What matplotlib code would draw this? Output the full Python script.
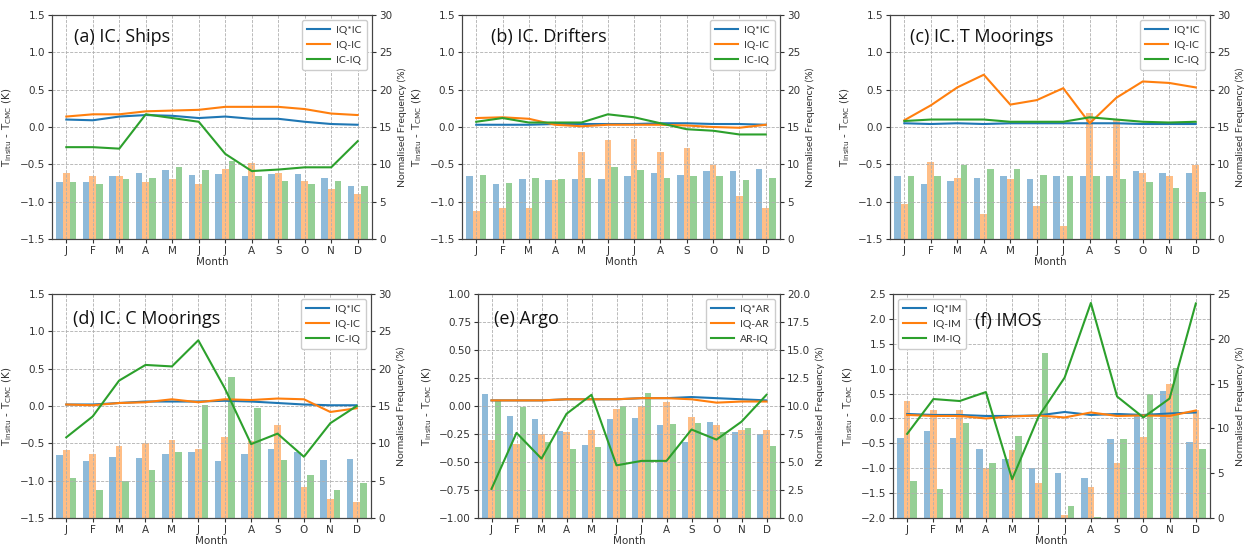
import numpy as np
import matplotlib
matplotlib.use("Agg")
import matplotlib.pyplot as plt

months = ['J', 'F', 'M', 'A', 'M', 'J', 'J', 'A', 'S', 'O', 'N', 'D']

# ---- (a) IC. Ships ----
a_labels = ['IQ*IC', 'IQ-IC', 'IC-IQ']
a_line_1 = [0.10, 0.09, 0.14, 0.16, 0.15, 0.12, 0.14, 0.11, 0.11, 0.07, 0.04, 0.03]
a_line_2 = [0.14, 0.17, 0.17, 0.21, 0.22, 0.23, 0.27, 0.27, 0.27, 0.24, 0.18, 0.16]
a_line_3 = [-0.27, -0.27, -0.29, 0.17, 0.12, 0.07, -0.36, -0.59, -0.57, -0.54, -0.54, -0.19]
a_bar_1 = [7.6, 7.6, 8.5, 8.9, 9.2, 8.6, 8.7, 8.5, 8.7, 8.7, 8.2, 7.1]
a_bar_2 = [8.9, 8.5, 8.5, 7.6, 8.0, 7.4, 9.4, 10.2, 8.9, 7.8, 6.7, 6.0]
a_bar_3 = [7.6, 7.4, 8.0, 8.2, 9.6, 9.3, 10.4, 8.5, 7.8, 7.4, 7.8, 7.1]

# ---- (b) IC. Drifters ----
b_labels = ['IQ*IC', 'IQ-IC', 'IC-IQ']
b_line_1 = [0.03, 0.03, 0.03, 0.04, 0.04, 0.04, 0.04, 0.05, 0.05, 0.04, 0.04, 0.03]
b_line_2 = [0.12, 0.13, 0.11, 0.03, 0.01, 0.03, 0.03, 0.03, 0.02, 0.00, -0.01, 0.03]
b_line_3 = [0.07, 0.12, 0.06, 0.06, 0.06, 0.17, 0.13, 0.05, -0.03, -0.05, -0.10, -0.10]
b_bar_1 = [8.4, 7.4, 8.1, 7.9, 8.1, 8.0, 8.4, 8.8, 8.6, 9.1, 9.1, 9.4]
b_bar_2 = [3.7, 4.1, 4.1, 7.9, 11.7, 13.2, 13.4, 11.6, 12.2, 9.9, 5.8, 4.1]
b_bar_3 = [8.6, 7.5, 8.2, 8.1, 8.2, 9.7, 9.2, 8.2, 8.5, 8.5, 7.9, 8.2]

# ---- (c) IC. T Moorings ----
c_labels = ['IQ*IC', 'IQ-IC', 'IC-IQ']
c_line_1 = [0.05, 0.04, 0.05, 0.04, 0.05, 0.05, 0.05, 0.05, 0.05, 0.04, 0.04, 0.04]
c_line_2 = [0.09, 0.29, 0.53, 0.70, 0.30, 0.36, 0.52, 0.05, 0.39, 0.61, 0.59, 0.53]
c_line_3 = [0.08, 0.10, 0.10, 0.10, 0.07, 0.07, 0.07, 0.13, 0.10, 0.07, 0.06, 0.07]
c_bar_1 = [8.5, 7.4, 7.8, 8.2, 8.4, 8.0, 8.4, 8.4, 8.4, 9.1, 8.8, 8.9]
c_bar_2 = [4.7, 10.3, 8.2, 3.3, 8.1, 4.4, 1.7, 16.9, 15.9, 8.9, 8.5, 9.9]
c_bar_3 = [8.5, 8.5, 9.9, 9.4, 9.4, 8.6, 8.5, 8.5, 8.0, 7.6, 6.8, 6.3]

# ---- (d) IC. C Moorings ----
d_labels = ['IQ*IC', 'IQ-IC', 'IC-IQ']
d_line_1 = [0.02, 0.02, 0.04, 0.06, 0.06, 0.06, 0.07, 0.06, 0.04, 0.02, 0.01, 0.01]
d_line_2 = [0.02, 0.01, 0.04, 0.05, 0.09, 0.05, 0.09, 0.08, 0.10, 0.09, -0.08, -0.03]
d_line_3 = [-0.42, -0.14, 0.34, 0.55, 0.53, 0.88, 0.24, -0.51, -0.37, -0.68, -0.23, 0.00]
d_bar_1 = [8.4, 7.7, 8.2, 8.0, 8.6, 8.8, 7.7, 8.6, 9.2, 8.8, 7.8, 7.9]
d_bar_2 = [9.1, 8.6, 9.6, 10.0, 10.4, 9.3, 10.9, 10.3, 12.4, 4.2, 2.6, 2.2]
d_bar_3 = [5.4, 3.7, 5.0, 6.4, 8.8, 15.2, 18.9, 14.7, 7.8, 5.8, 3.7, 4.7]

# ---- (e) Argo ----
e_labels = ['IQ*AR', 'IQ-AR', 'AR-IQ']
e_line_1 = [0.05, 0.05, 0.05, 0.06, 0.06, 0.06, 0.07, 0.07, 0.08, 0.07, 0.06, 0.05]
e_line_2 = [0.05, 0.05, 0.05, 0.06, 0.06, 0.06, 0.07, 0.07, 0.06, 0.03, 0.04, 0.04]
e_line_3 = [-0.74, -0.24, -0.47, -0.07, 0.10, -0.53, -0.49, -0.49, -0.21, -0.30, -0.14, 0.10]
e_bar_1 = [11.1, 9.1, 8.8, 7.8, 6.5, 8.8, 8.9, 8.3, 6.8, 8.6, 7.7, 7.5]
e_bar_2 = [7.0, 6.6, 7.5, 7.7, 7.9, 9.7, 10.0, 10.4, 9.0, 8.3, 7.9, 7.9]
e_bar_3 = [10.5, 9.9, 6.8, 6.2, 6.3, 10.0, 11.2, 8.4, 8.5, 7.7, 8.0, 6.4]

# ---- (f) IMOS ----
f_labels = ['IQ*IM', 'IQ-IM', 'IM-IQ']
f_line_1 = [0.09, 0.07, 0.07, 0.05, 0.05, 0.06, 0.13, 0.07, 0.09, 0.07, 0.10, 0.12]
f_line_2 = [0.07, 0.05, 0.05, 0.00, 0.04, 0.06, 0.02, 0.12, 0.05, 0.06, 0.05, 0.16]
f_line_3 = [-0.31, 0.39, 0.35, 0.53, -1.22, 0.03, 0.82, 2.32, 0.44, 0.02, 0.40, 2.31]
f_bar_1 = [8.9, 9.7, 8.9, 7.7, 6.6, 5.6, 5.0, 4.5, 8.8, 11.4, 14.2, 8.5]
f_bar_2 = [13.1, 12.0, 12.0, 5.6, 7.6, 3.9, 0.3, 3.5, 6.1, 9.0, 14.9, 12.0]
f_bar_3 = [4.1, 3.2, 10.6, 6.1, 9.1, 18.4, 1.3, 0.1, 8.8, 13.8, 16.7, 7.7]

panels = [
    dict(title='(a) IC. Ships', labels=a_labels, lines=[a_line_1, a_line_2, a_line_3],
         bars=[a_bar_1, a_bar_2, a_bar_3], px=(52, 372, 15, 239),
         yl=(-1.5, 1.5, 0.5), yr=(0, 30, 5), tpos=(0.07, 0.90), loc='upper right'),
    dict(title='(b) IC. Drifters', labels=b_labels, lines=[b_line_1, b_line_2, b_line_3],
         bars=[b_bar_1, b_bar_2, b_bar_3], px=(462, 780, 15, 239),
         yl=(-1.5, 1.5, 0.5), yr=(0, 30, 5), tpos=(0.09, 0.90), loc='upper right'),
    dict(title='(c) IC. T Moorings', labels=c_labels, lines=[c_line_1, c_line_2, c_line_3],
         bars=[c_bar_1, c_bar_2, c_bar_3], px=(890, 1210, 15, 239),
         yl=(-1.5, 1.5, 0.5), yr=(0, 30, 5), tpos=(0.063, 0.90), loc='upper right'),
    dict(title='(d) IC. C Moorings', labels=d_labels, lines=[d_line_1, d_line_2, d_line_3],
         bars=[d_bar_1, d_bar_2, d_bar_3], px=(52, 371, 294, 518),
         yl=(-1.5, 1.5, 0.5), yr=(0, 30, 5), tpos=(0.066, 0.89), loc='upper right'),
    dict(title='(e) Argo', labels=e_labels, lines=[e_line_1, e_line_2, e_line_3],
         bars=[e_bar_1, e_bar_2, e_bar_3], px=(478, 780, 294, 518),
         yl=(-1.0, 1.0, 0.25), yr=(0, 20, 2.5), tpos=(0.053, 0.89), loc='upper right'),
    dict(title='(f) IMOS', labels=f_labels, lines=[f_line_1, f_line_2, f_line_3],
         bars=[f_bar_1, f_bar_2, f_bar_3], px=(893, 1210, 294, 518),
         yl=(-2.0, 2.5, 0.5), yr=(0, 25, 5), tpos=(0.26, 0.88), loc='upper left'),
]

W, H = 1250, 546
colors = ['#1f77b4', '#ff7f0e', '#2ca02c']
fig = plt.figure(figsize=(W / 100, H / 100), dpi=100)
plt.rcParams['font.size'] = 7.5

x = np.arange(len(months))
bw = 0.25
text_col = '#333333'

for p in panels:
    l, r, t, b = p['px']
    ax = fig.add_axes([l / W, 1 - b / H, (r - l) / W, (b - t) / H])
    ax2 = ax.twinx()
    for i, vals in enumerate(p['bars']):
        ax2.bar(x + (i - 1) * bw, vals, width=bw, color=colors[i], alpha=0.5, linewidth=0)
    for i, vals in enumerate(p['lines']):
        ax.plot(x, vals, color=colors[i], lw=1.5, label=p['labels'][i])
    ax.set_zorder(ax2.get_zorder() + 1)
    ax.patch.set_visible(False)

    lo, hi, st = p['yl']
    ax.set_ylim(lo, hi)
    ax.set_yticks(np.arange(lo, hi + st / 2, st))
    rlo, rhi, rst = p['yr']
    ax2.set_ylim(rlo, rhi)
    ax2.set_yticks(np.arange(rlo, rhi + rst / 2, rst))
    ax.set_xlim(-0.54, 11.54)
    ax.set_xticks(x)
    ax.set_xticklabels(months)
    ax.grid(True, linestyle='--', color='#b0b0b0', linewidth=0.6)
    ax.set_axisbelow(True)

    ax.set_ylabel(r'T$_{\rm insitu}$ - T$_{\rm CMC}$ (K)', color=text_col, fontsize=7.5)
    ax2.set_ylabel('Normalised Frequency (%)', color=text_col, fontsize=7.5,
                   family='Lato')
    ax.set_xlabel('Month', color=text_col, fontsize=7.5, labelpad=1)
    for a in (ax, ax2):
        a.tick_params(colors=text_col, labelsize=7.5, length=3, pad=2)
        for s in a.spines.values():
            s.set_color('#444444')
            s.set_linewidth(0.8)

    leg = ax.legend(loc=p['loc'], prop={'family': 'Lato', 'size': 7.5}, framealpha=1,
                    edgecolor='#cccccc', handlelength=2.2, borderpad=0.5,
                    labelspacing=0.55, handletextpad=0.6)
    for txt in leg.get_texts():
        txt.set_color(text_col)
    ax.text(p['tpos'][0], p['tpos'][1], p['title'], transform=ax.transAxes,
            fontsize=13, family='Open Sans', va='center', ha='left', color='#111111')

fig.savefig('out.png', dpi=100)
